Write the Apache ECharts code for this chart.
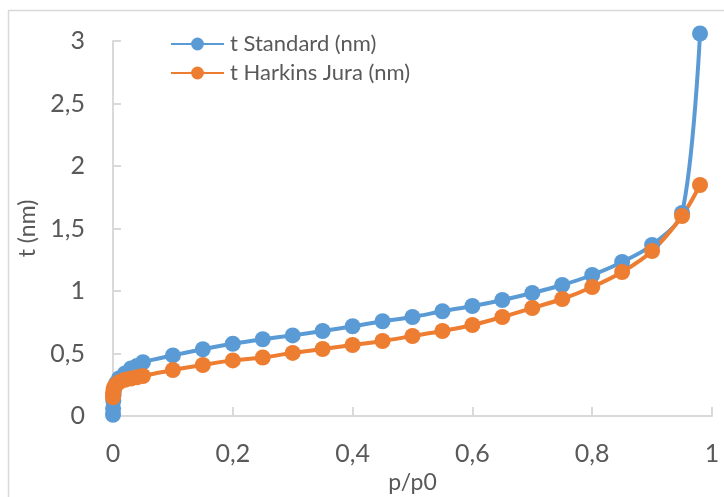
<!DOCTYPE html>
<html>
<head>
<meta charset="utf-8">
<script src="https://cdn.jsdelivr.net/npm/echarts@6/dist/echarts.min.js"></script>
<style>
html,body{margin:0;padding:0;background:#fff;}
#c{width:724px;height:497px;}
</style>
</head>
<body>
<div id="c"></div>
<script>
var pp0 = [0.00005, 0.0002, 0.0005, 0.001, 0.002, 0.005, 0.01, 0.02, 0.03, 0.04, 0.05,
  0.1, 0.15, 0.2, 0.25, 0.3, 0.35, 0.4, 0.45, 0.5, 0.55, 0.6, 0.65, 0.7, 0.75, 0.8, 0.85, 0.9, 0.95, 0.98];
var tStandard = [0.01, 0.06, 0.12, 0.17, 0.22, 0.26, 0.30, 0.34, 0.38, 0.40, 0.43,
  0.485, 0.534, 0.578, 0.614, 0.645, 0.68, 0.718, 0.758, 0.792, 0.838, 0.88, 0.928, 0.984, 1.048, 1.128, 1.232, 1.368, 1.624, 3.06];
var tHarkins = [0.15, 0.17, 0.19, 0.21, 0.23, 0.25, 0.27, 0.29, 0.30, 0.31, 0.32,
  0.368, 0.408, 0.445, 0.468, 0.505, 0.536, 0.568, 0.6, 0.64, 0.68, 0.728, 0.792, 0.864, 0.936, 1.032, 1.152, 1.32, 1.6, 1.848];
var seriesNames = ['t Standard (nm)', 't Harkins Jura (nm)'];
var xTicks = {min: 0, max: 1, interval: 0.2};
var yTicks = {min: 0, max: 3, interval: 0.5};

function pairs(xs, ys){ return xs.map(function(x,i){ return [x, ys[i]]; }); }
function comma(v){ return String(Math.round(v*10)/10).replace('.', ','); }

var chart = echarts.init(document.getElementById('c'), null, {renderer:'canvas'});
var font = 'Lato, "Open Sans", sans-serif';
var gray = '#d9d9d9';
chart.setOption({
  animation: false,
  graphic: [{
    type: 'rect', shape: {x: 8.5, y: 10.5, width: 800, height: 600},
    style: {fill: 'none', stroke: gray, lineWidth: 1.5}, z: -1
  }],
  grid: {left: 113, right: 12, top: 41, bottom: 81, outerBoundsMode: 'none', containLabel: false},
  legend: {
    left: 165, top: 28, orient: 'vertical', itemGap: 7,
    itemWidth: 53, itemHeight: 16,
    textStyle: {fontFamily: font, fontSize: 22, color: '#595959', padding: [0,0,0,1]},
    data: seriesNames
  },
  xAxis: {
    type: 'value', min: xTicks.min, max: xTicks.max, interval: xTicks.interval,
    name: 'p/p0', nameLocation: 'middle', nameGap: 53,
    nameTextStyle: {fontFamily: font, fontSize: 23, color: '#595959'},
    axisLine: {show: true, lineStyle: {color: gray, width: 2}},
    axisTick: {show: true, inside: true, length: 9, lineStyle: {color: gray, width: 2}},
    axisLabel: {fontFamily: font, fontSize: 25, color: '#595959', margin: 25, formatter: comma},
    splitLine: {show: false}
  },
  yAxis: {
    type: 'value', min: yTicks.min, max: yTicks.max, interval: yTicks.interval,
    name: 't (nm)', nameLocation: 'middle', nameGap: 64, nameRotate: 90,
    nameTextStyle: {fontFamily: font, fontSize: 23, color: '#595959'},
    axisLine: {show: true, lineStyle: {color: gray, width: 2}},
    axisTick: {show: true, inside: true, length: 8, lineStyle: {color: gray, width: 2}},
    axisLabel: {fontFamily: font, fontSize: 25, color: '#595959', margin: 28, formatter: comma},
    splitLine: {show: false}
  },
  series: [{
    name: seriesNames[0], type: 'line', smooth: 0.3, clip: false,
    data: pairs(pp0, tStandard),
    symbol: 'circle', symbolSize: 16,
    itemStyle: {color: '#5b9bd5'},
    lineStyle: {color: '#5b9bd5', width: 4}
  },{
    name: seriesNames[1], type: 'line', smooth: 0.3, clip: false,
    data: pairs(pp0, tHarkins),
    symbol: 'circle', symbolSize: 16,
    itemStyle: {color: '#ed7d31'},
    lineStyle: {color: '#ed7d31', width: 4}
  }]
});
</script>
</body>
</html>
